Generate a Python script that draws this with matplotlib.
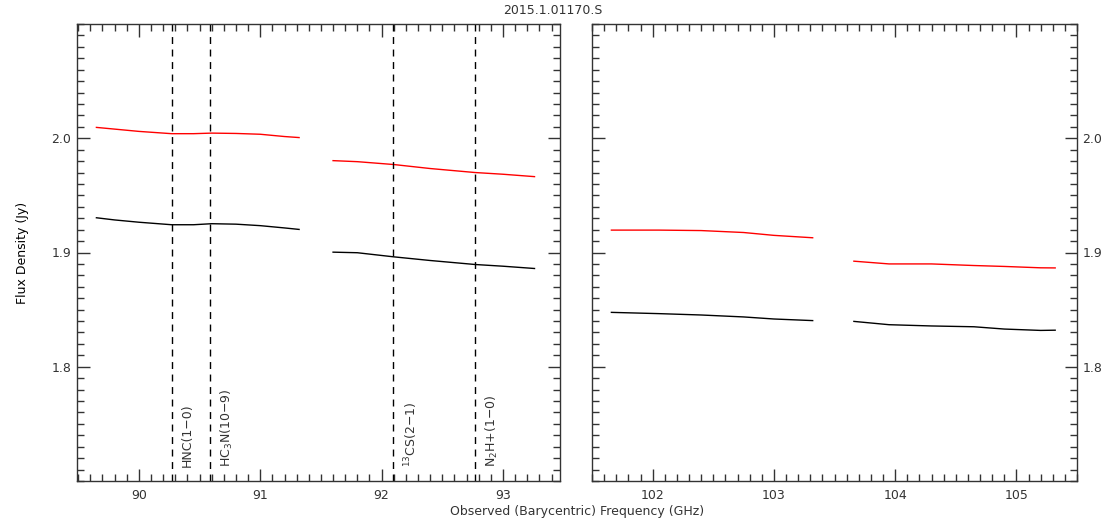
import matplotlib
matplotlib.use("Agg")
import matplotlib.pyplot as plt
from matplotlib.ticker import MultipleLocator

# spectral windows: frequency (GHz) and flux (Jy), two windows per sideband
lsb_freq_1 = [89.65, 89.80, 90.00, 90.27, 90.45, 90.60, 90.80, 91.00, 91.20, 91.32]
lsb_red_1 = [2.0095, 2.0080, 2.0060, 2.0040, 2.0040, 2.0045, 2.0042, 2.0035, 2.0015, 2.0006]
lsb_blk_1 = [1.9304, 1.9285, 1.9265, 1.9243, 1.9243, 1.9252, 1.9248, 1.9235, 1.9215, 1.9202]

lsb_freq_2 = [91.60, 91.80, 92.10, 92.40, 92.77, 93.00, 93.26]
lsb_red_2 = [1.9804, 1.9795, 1.9770, 1.9735, 1.9700, 1.9685, 1.9664]
lsb_blk_2 = [1.9003, 1.8998, 1.8962, 1.8930, 1.8895, 1.8880, 1.8860]

usb_freq_1 = [101.66, 102.05, 102.40, 102.75, 103.00, 103.32]
usb_red_1 = [1.9196, 1.9196, 1.9192, 1.9175, 1.9150, 1.9129]
usb_blk_1 = [1.8476, 1.8465, 1.8453, 1.8436, 1.8418, 1.8404]

usb_freq_2 = [103.66, 103.95, 104.30, 104.65, 104.90, 105.20, 105.32]
usb_red_2 = [1.8924, 1.8900, 1.8900, 1.8886, 1.8878, 1.8866, 1.8865]
usb_blk_2 = [1.8397, 1.8368, 1.8357, 1.8350, 1.8330, 1.8318, 1.8320]

line_names = ["HNC(1\u22120)", "HC$_3$N(10\u22129)", "$^{13}$CS(2\u22121)", "N$_2$H+(1\u22120)"]
line_freqs = [90.274, 90.590, 92.098, 92.772]

fg = "#333333"
plt.rcParams["font.family"] = ["DejaVu Sans"]
plt.rcParams["font.size"] = 9
plt.rcParams["text.color"] = fg
plt.rcParams["xtick.color"] = fg
plt.rcParams["ytick.color"] = fg

fig = plt.figure(figsize=(11.06, 5.24), dpi=100)
ax1 = fig.add_axes([77 / 1106, 43 / 524, 483 / 1106, 457 / 524])
ax2 = fig.add_axes([592 / 1106, 43 / 524, 485 / 1106, 457 / 524])

for f, r, b in [(lsb_freq_1, lsb_red_1, lsb_blk_1), (lsb_freq_2, lsb_red_2, lsb_blk_2)]:
    ax1.plot(f, r, color="red", lw=1)
    ax1.plot(f, b, color="black", lw=1)
for f, r, b in [(usb_freq_1, usb_red_1, usb_blk_1), (usb_freq_2, usb_red_2, usb_blk_2)]:
    ax2.plot(f, r, color="red", lw=1)
    ax2.plot(f, b, color="black", lw=1)

for name, nu in zip(line_names, line_freqs):
    ax1.axvline(nu, color="black", lw=1, ls=(0, (5, 4)))
    ax1.text(nu + 0.07, 1.712, name, rotation=90, ha="left", va="bottom", fontsize=9)

ax1.set_xlim(89.49, 93.47)
ax2.set_xlim(101.5, 105.5)
for ax in (ax1, ax2):
    ax.set_ylim(1.70, 2.10)
    ax.xaxis.set_major_locator(MultipleLocator(1))
    ax.xaxis.set_minor_locator(MultipleLocator(0.1))
    ax.yaxis.set_major_locator(MultipleLocator(0.1))
    ax.yaxis.set_minor_locator(MultipleLocator(0.01))
    ax.tick_params(which="both", direction="in", top=True, right=True, width=1, colors=fg)
    ax.tick_params(which="major", length=9)
    ax.tick_params(axis="x", which="major", pad=6)
    ax.tick_params(axis="y", which="major", pad=4)
    ax.tick_params(which="minor", length=5)
    for sp in ax.spines.values():
        sp.set_color(fg)
        sp.set_linewidth(1)
    ax.set_yticks([1.8, 1.9, 2.0])
    ax.yaxis.set_major_formatter(plt.FormatStrFormatter("%.1f"))

ax2.tick_params(axis="y", which="both", labelleft=False, labelright=True)

ax1.set_ylabel("Flux Density (Jy)", fontsize=9, labelpad=16)
fig.text(577 / 1106, 6 / 524, "Observed (Barycentric) Frequency (GHz)", ha="center", va="bottom", fontsize=9)
fig.text(553 / 1106, 1 - 11 / 524, "2015.1.01170.S", ha="center", va="center", fontsize=9)

fig.savefig("out.png", dpi=100)
plt.close(fig)
